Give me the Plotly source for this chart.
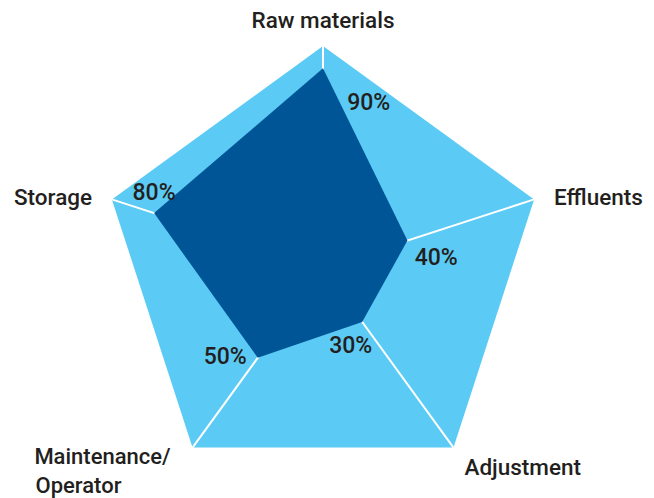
import plotly.graph_objects as go

NB = "\u00a0"

categories = ["Raw materials", "Effluents", "Adjustment", "Maintenance/Operator", "Storage"]
category_labels = ["Raw materials", "Effluents", "Adjustment",
                   "Maintenance/" + NB * 4 + "<br>Operator" + NB * 13, "Storage"]
full_scale = [100, 100, 100, 100, 100]
values = [90, 40, 30, 50, 80]
value_labels = ["90%", "40%", "30%" + NB * 4, "50%", "80%"]

value_label_positions = ["bottom right", "bottom right", "bottom center", "middle left", "top center"]
value_label_pad = [37, 10, 20, 16, 10]
category_label_positions = ["top center", "middle right", "bottom right", "bottom left", "middle left"]
category_label_pad = [19, 30, 16, 0, 30]
category_label_sizes = [22.5, 22.5, 22.5, 22, 22.5]

LIGHT = "#5BCBF5"
DARK = "#005596"
TEXT = "#231F20"
FONT = "Roboto"

fig = go.Figure()
fig.add_trace(go.Scatterpolar(
    r=values + values[:1],
    theta=categories + categories[:1],
    mode="lines",
    fill="toself",
    fillcolor=DARK,
    line=dict(color=DARK, width=0),
    hoverinfo="skip",
))
fig.add_trace(go.Scatterpolar(
    r=values,
    theta=categories,
    mode="markers+text",
    marker=dict(size=value_label_pad, opacity=0),
    text=value_labels,
    textposition=value_label_positions,
    textfont=dict(family=FONT, size=23, color=TEXT, weight=500),
    hoverinfo="skip",
    cliponaxis=False,
))
fig.add_trace(go.Scatterpolar(
    r=full_scale,
    theta=categories,
    mode="markers+text",
    marker=dict(size=category_label_pad, opacity=0),
    text=category_labels,
    textposition=category_label_positions,
    textfont=dict(family=FONT, size=category_label_sizes, color=TEXT, weight=500),
    hoverinfo="skip",
    cliponaxis=False,
))

fig.update_layout(
    width=654, height=498,
    margin=dict(l=0, r=0, t=0, b=0),
    paper_bgcolor="white",
    showlegend=False,
    polar=dict(
        domain=dict(x=[93/654, 537/654], y=[1-482/498, 1-38/498]),
        bgcolor=LIGHT,
        gridshape="linear",
        radialaxis=dict(range=[0, 100], visible=False, showgrid=False),
        angularaxis=dict(
            rotation=90, direction="clockwise",
            showgrid=True, gridcolor="white", gridwidth=1.5,
            showline=False, showticklabels=False, ticks="",
            layer="above traces",
        ),
    ),
)

fig.write_html("out.html")
